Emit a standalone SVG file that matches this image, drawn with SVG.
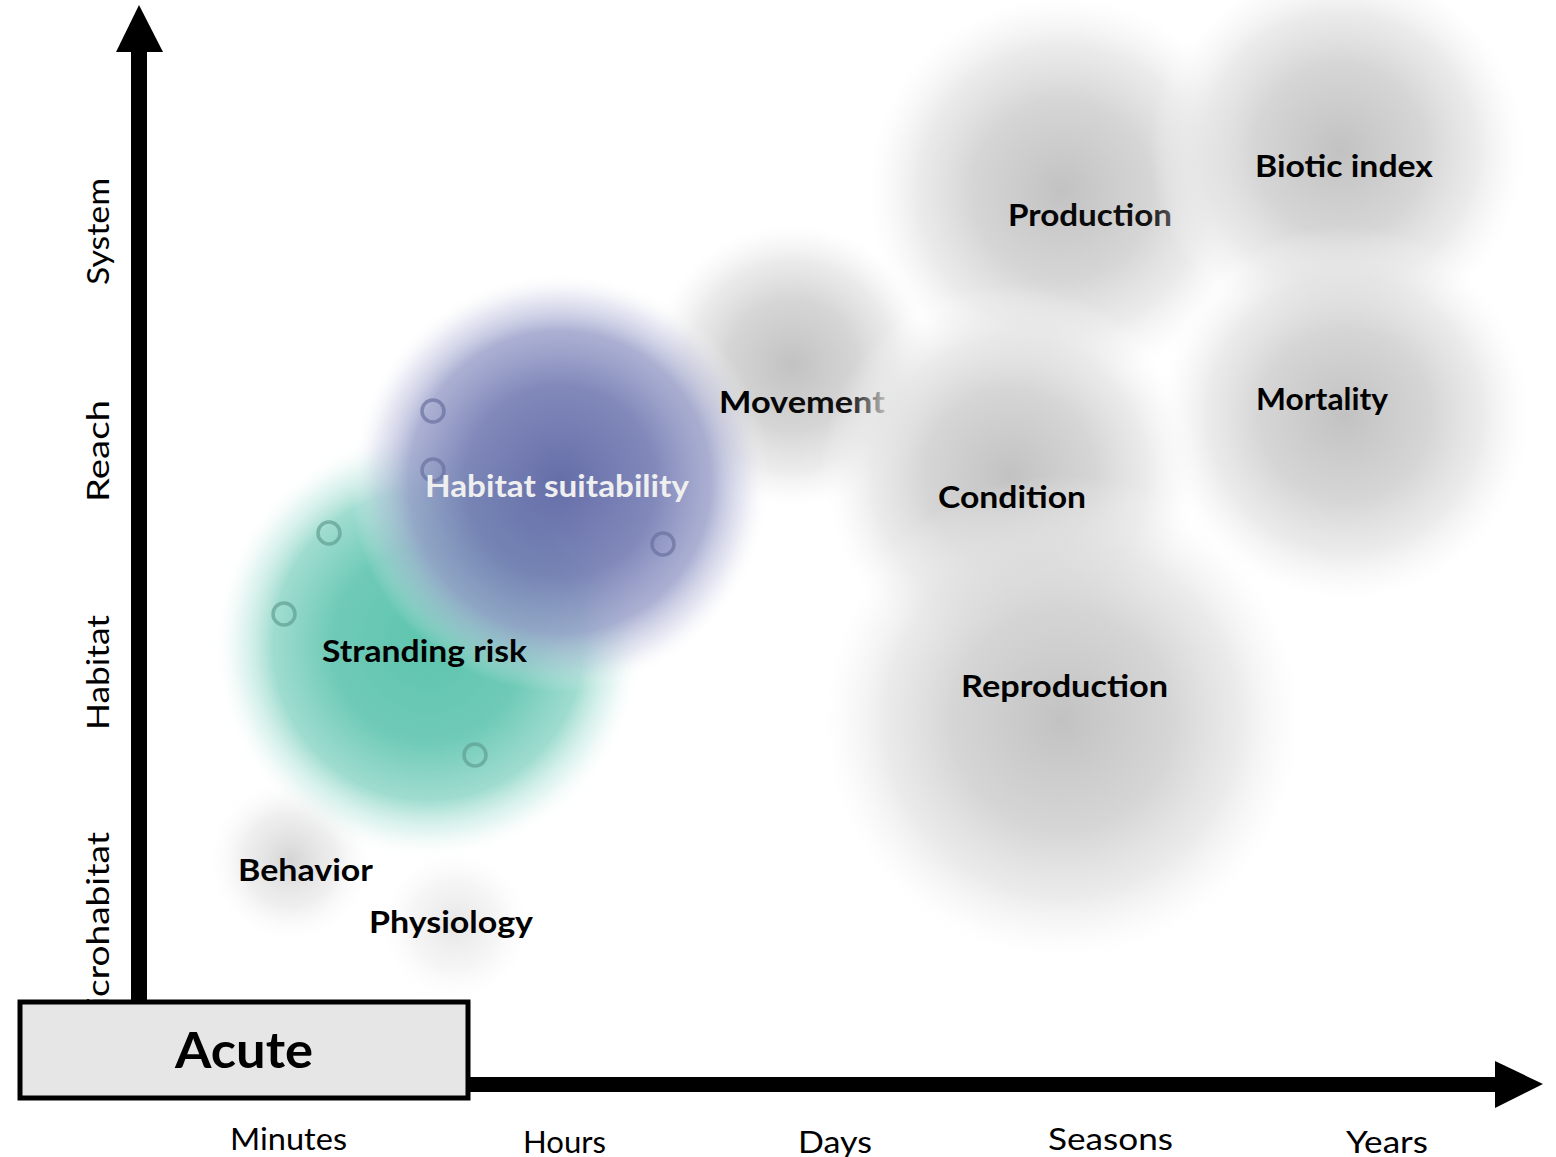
<svg xmlns="http://www.w3.org/2000/svg" width="1556" height="1157" viewBox="0 0 1556 1157">
<defs>
<radialGradient id="gray">
<stop offset="0" stop-color="#c2c2c2" stop-opacity="1"/>
<stop offset="0.45" stop-color="#d2d2d2" stop-opacity="0.92"/>
<stop offset="0.72" stop-color="#e2e2e2" stop-opacity="0.7"/>
<stop offset="0.88" stop-color="#eeeeee" stop-opacity="0.3"/>
<stop offset="1" stop-color="#ffffff" stop-opacity="0"/>
</radialGradient>
<radialGradient id="grayfaint">
<stop offset="0" stop-color="#d0d0d0" stop-opacity="0.9"/>
<stop offset="0.55" stop-color="#e4e4e4" stop-opacity="0.6"/>
<stop offset="1" stop-color="#ffffff" stop-opacity="0"/>
</radialGradient>
<radialGradient id="teal">
<stop offset="0" stop-color="#5ec5ae"/>
<stop offset="0.45" stop-color="#6fcab7"/>
<stop offset="0.72" stop-color="#8ed6c7" stop-opacity="0.85"/>
<stop offset="0.88" stop-color="#c2eae1" stop-opacity="0.4"/>
<stop offset="1" stop-color="#ffffff" stop-opacity="0"/>
</radialGradient>
<radialGradient id="purple">
<stop offset="0" stop-color="#5d66a4" stop-opacity="0.95"/>
<stop offset="0.45" stop-color="#737bb2" stop-opacity="0.9"/>
<stop offset="0.72" stop-color="#979dc8" stop-opacity="0.8"/>
<stop offset="0.88" stop-color="#c5c8e2" stop-opacity="0.4"/>
<stop offset="1" stop-color="#ffffff" stop-opacity="0"/>
</radialGradient>
<linearGradient id="fadeMove" x1="0" y1="0" x2="1" y2="0">
<stop offset="0" stop-color="#000"/>
<stop offset="0.78" stop-color="#111"/>
<stop offset="1" stop-color="#bbb"/>
</linearGradient>
<linearGradient id="fadeProd" x1="0" y1="0" x2="1" y2="0">
<stop offset="0" stop-color="#000"/>
<stop offset="0.85" stop-color="#111"/>
<stop offset="1" stop-color="#555"/>
</linearGradient>
</defs>
<style>
.lbl{font-family:Lato,"DejaVu Sans",sans-serif;font-weight:bold;font-size:30px;fill:#000}
.ax{font-family:Lato,"DejaVu Sans",sans-serif;font-size:30px;fill:#000}
.dot{fill:none;stroke-width:3.5}
</style>
<rect width="1556" height="1157" fill="#fff"/>

<g id="blob-production"><circle cx="1062" cy="190" r="200" fill="url(#gray)"/></g>
<g id="blob-biotic"><circle cx="1340" cy="150" r="190" fill="url(#gray)"/></g>
<g id="blob-movement"><circle cx="792" cy="365" r="145" fill="url(#gray)"/></g>
<g id="blob-mortality"><circle cx="1345" cy="415" r="190" fill="url(#gray)"/></g>
<g id="blob-condition"><circle cx="1010" cy="475" r="190" fill="url(#gray)"/></g>
<g id="blob-reproduction"><circle cx="1062" cy="720" r="245" fill="url(#gray)"/></g>
<g id="blob-behavior"><circle cx="290" cy="860" r="85" fill="url(#grayfaint)"/></g>
<g id="blob-physiology"><circle cx="455" cy="925" r="80" fill="url(#grayfaint)" opacity="0.6"/></g>
<g id="blob-stranding"><circle cx="428" cy="645" r="215" fill="url(#teal)"/></g>
<g id="blob-habitat"><circle cx="560" cy="482" r="210" fill="url(#purple)"/></g>

<g id="dots-habitat" stroke="#6a70a0" stroke-opacity="0.7">
<circle cx="433" cy="411" r="11" class="dot"/>
<circle cx="433" cy="470" r="11" class="dot"/>
<circle cx="663" cy="544" r="11" class="dot"/>
</g>
<g id="dots-stranding" stroke="#5f9f92" stroke-opacity="0.7">
<circle cx="329" cy="533" r="11" class="dot"/>
<circle cx="284" cy="614" r="11" class="dot"/>
<circle cx="475" cy="755" r="11" class="dot"/>
</g>

<g id="node-habitat-suitability"><text class="lbl" x="425" y="497" textLength="264" lengthAdjust="spacingAndGlyphs" style="fill:#efefef">Habitat suitability</text></g>
<g id="node-stranding-risk"><text class="lbl" x="322" y="662" textLength="205" lengthAdjust="spacingAndGlyphs">Stranding risk</text></g>
<g id="node-movement"><text class="lbl" x="719" y="413" textLength="166" lengthAdjust="spacingAndGlyphs" style="fill:url(#fadeMove)">Movement</text></g>
<g id="node-production"><text class="lbl" x="1008" y="226" textLength="164" lengthAdjust="spacingAndGlyphs" style="fill:url(#fadeProd)">Production</text></g>
<g id="node-biotic-index"><text class="lbl" x="1255" y="177" textLength="178" lengthAdjust="spacingAndGlyphs">Biotic index</text></g>
<g id="node-mortality"><text class="lbl" x="1256" y="410" textLength="132" lengthAdjust="spacingAndGlyphs">Mortality</text></g>
<g id="node-condition"><text class="lbl" x="938" y="508" textLength="148" lengthAdjust="spacingAndGlyphs">Condition</text></g>
<g id="node-reproduction"><text class="lbl" x="961" y="697" textLength="207" lengthAdjust="spacingAndGlyphs">Reproduction</text></g>
<g id="node-behavior"><text class="lbl" x="238" y="881" textLength="135" lengthAdjust="spacingAndGlyphs">Behavior</text></g>
<g id="node-physiology"><text class="lbl" x="369" y="933" textLength="164" lengthAdjust="spacingAndGlyphs">Physiology</text></g>

<g id="y-labels">
<text class="ax" transform="translate(109,285) rotate(-90)" textLength="107" lengthAdjust="spacingAndGlyphs">System</text>
<text class="ax" transform="translate(109,502) rotate(-90)" textLength="102" lengthAdjust="spacingAndGlyphs">Reach</text>
<text class="ax" transform="translate(109,730) rotate(-90)" textLength="115" lengthAdjust="spacingAndGlyphs">Habitat</text>
<text class="ax" transform="translate(109,1040) rotate(-90)" textLength="208" lengthAdjust="spacingAndGlyphs">Microhabitat</text>
</g>

<g id="x-labels">
<text class="ax" x="230" y="1150" textLength="117" lengthAdjust="spacingAndGlyphs">Minutes</text>
<text class="ax" x="523" y="1153" textLength="83" lengthAdjust="spacingAndGlyphs">Hours</text>
<text class="ax" x="798" y="1153" textLength="74" lengthAdjust="spacingAndGlyphs">Days</text>
<text class="ax" x="1048" y="1150" textLength="125" lengthAdjust="spacingAndGlyphs">Seasons</text>
<text class="ax" x="1346" y="1153" textLength="82" lengthAdjust="spacingAndGlyphs">Years</text>
</g>

<g id="connectors">
<rect x="131" y="48" width="16" height="960" fill="#000"/>
<polygon points="139,5 163,52 116,52" fill="#000"/>
<rect x="465" y="1077" width="1035" height="15" fill="#000"/>
<polygon points="1543,1084 1495,1061 1495,1108" fill="#000"/>
</g>

<g id="node-acute">
<rect x="20" y="1002" width="448" height="96" fill="#e6e6e6" stroke="#000" stroke-width="5"/>
<text x="244" y="1068" text-anchor="middle" style="font-family:Lato,'DejaVu Sans',sans-serif;font-weight:bold;font-size:50px" textLength="138" lengthAdjust="spacingAndGlyphs">Acute</text>
</g>
</svg>
